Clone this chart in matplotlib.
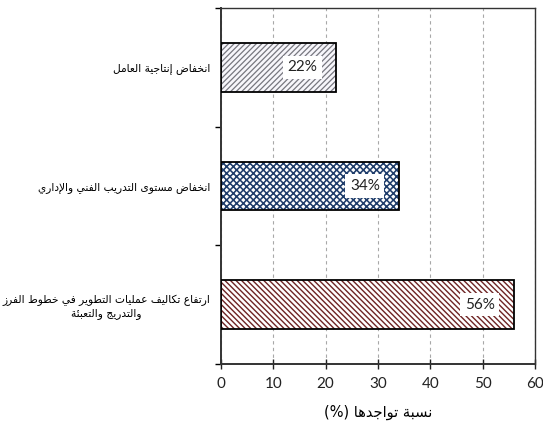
import matplotlib
matplotlib.use("Agg")
import matplotlib.pyplot as plt
from matplotlib.ticker import FixedLocator

# ---- data -------------------------------------------------------------
categories = [
    "انخفاض إنتاجية العامل",
    "انخفاض مستوى التدريب الفني والإداري",
    "ارتفاع تكاليف عمليات التطوير في خطوط الفرز\nوالتدريج والتعبئة",
]
values = [22, 34, 56]
value_labels = ["22%", "34%", "56%"]
x_ticks = [0, 10, 20, 30, 40, 50, 60]
x_label_ar = "نسبة تواجدها"
x_label_unit = "(%)"

# ---- minimal Arabic shaping (contextual forms + RTL order) -------------
# (char, first code point of its presentation-form block, joins on both sides)
_LETTERS = [
    ("آ", 0xFE81, False), ("أ", 0xFE83, False), ("ؤ", 0xFE85, False),
    ("إ", 0xFE87, False), ("ئ", 0xFE89, True), ("ا", 0xFE8D, False),
    ("ب", 0xFE8F, True), ("ة", 0xFE93, False), ("ت", 0xFE95, True),
    ("ث", 0xFE99, True), ("ج", 0xFE9D, True), ("ح", 0xFEA1, True),
    ("خ", 0xFEA5, True), ("د", 0xFEA9, False), ("ذ", 0xFEAB, False),
    ("ر", 0xFEAD, False), ("ز", 0xFEAF, False), ("س", 0xFEB1, True),
    ("ش", 0xFEB5, True), ("ص", 0xFEB9, True), ("ض", 0xFEBD, True),
    ("ط", 0xFEC1, True), ("ظ", 0xFEC5, True), ("ع", 0xFEC9, True),
    ("غ", 0xFECD, True), ("ف", 0xFED1, True), ("ق", 0xFED5, True),
    ("ك", 0xFED9, True), ("ل", 0xFEDD, True), ("م", 0xFEE1, True),
    ("ن", 0xFEE5, True), ("ه", 0xFEE9, True), ("و", 0xFEED, False),
    ("ى", 0xFEEF, False), ("ي", 0xFEF1, True),
]
_FORMS = {c: (base, dual) for c, base, dual in _LETTERS}
_LAM_ALEF = {"آ": 0xFEF5, "أ": 0xFEF7, "إ": 0xFEF9, "ا": 0xFEFB}


def shape_line(text):
    tokens = []
    i = 0
    while i < len(text):
        c = text[i]
        if c == "ل" and i + 1 < len(text) and text[i + 1] in _LAM_ALEF:
            tokens.append((_LAM_ALEF[text[i + 1]], False, None))
            i += 2
            continue
        if c in _FORMS:
            base, dual = _FORMS[c]
            tokens.append((base, dual, None))
        else:
            tokens.append((None, False, c))
        i += 1
    out = []
    for k, (base, dual, lit) in enumerate(tokens):
        if base is None:
            out.append(lit)
            continue
        prev = tokens[k - 1] if k > 0 else None
        nxt = tokens[k + 1] if k + 1 < len(tokens) else None
        jp = prev is not None and prev[0] is not None and prev[1]
        jn = dual and nxt is not None and nxt[0] is not None
        if jp and jn:
            off = 3
        elif jp:
            off = 1
        elif jn:
            off = 2
        else:
            off = 0
        out.append(chr(base + off))
    return "".join(out)[::-1]


def rtl(text):
    return "\n".join(shape_line(line) for line in text.split("\n"))


# ---- figure -----------------------------------------------------------
plt.rcParams["font.family"] = ["DejaVu Sans"]
plt.rcParams["hatch.linewidth"] = 1.0

fig = plt.figure(figsize=(5.43, 4.33), dpi=100)
ax = fig.add_axes([0.407, 0.159, 0.578, 0.8225])

num_font = ["Lato", "DejaVu Sans"]
hatches = ["//////", "xxxxx", "\\\\\\\\\\\\"]
hatch_colors = ["#77777f", "#1f3d6b", "#6e2424"]
hatch_widths = [0.9, 1.15, 1.0]
face_colors = ["#f7f6fb", "white", "white"]

pos = list(range(len(categories)))
bar_h = 0.41
ax.barh(pos, values, height=bar_h, color=face_colors, linewidth=0, zorder=2)
for p, v, h, hc, hw in zip(pos, values, hatches, hatch_colors, hatch_widths):
    plt.rcParams["hatch.linewidth"] = hw
    ax.barh(p, v, height=bar_h, color="none", edgecolor=hc, hatch=h,
            linewidth=0, zorder=3)
ax.barh(pos, values, height=bar_h, color="none", edgecolor="black",
        linewidth=1.3, zorder=4)

for p, v, lab in zip(pos, values, value_labels):
    ax.text(v - 6.5, p, lab, ha="center", va="center", fontsize=11,
            family=num_font, color="#222222", zorder=5,
            bbox=dict(boxstyle="square,pad=0.3", fc="white", ec="none"))

ax.set_xlim(0, 60)
ax.set_ylim(2.5, -0.5)
ax.xaxis.set_major_locator(FixedLocator(x_ticks))
ax.set_xticklabels([str(t) for t in x_ticks], family=num_font, fontsize=11)

ax.yaxis.set_major_locator(FixedLocator([-0.5, 0.5, 1.5, 2.5]))
ax.yaxis.set_ticklabels([])
ax.yaxis.set_minor_locator(FixedLocator(pos))
ax.yaxis.set_minor_formatter(plt.FixedFormatter([rtl(c) for c in categories]))
ax.tick_params(axis="y", which="minor", length=0, pad=8, labelsize=7.7)
for t in ax.yaxis.get_minorticklabels():
    t.set_multialignment("center")
ax.tick_params(axis="y", which="major", direction="out", length=4, width=1)
ax.tick_params(axis="x", direction="inout", length=7, width=1, pad=6,
               colors="#222222")

ax.grid(axis="x", color="#a8a8a8", linestyle=(0, (3, 3)), linewidth=0.8,
        zorder=1)
ax.set_axisbelow(True)

for side in ["left", "bottom"]:
    ax.spines[side].set_linewidth(1.4)
    ax.spines[side].set_color("#333333")
for side in ["top", "right"]:
    ax.spines[side].set_linewidth(1.0)
    ax.spines[side].set_color("#333333")

ax.set_xlabel(x_label_unit + " " + rtl(x_label_ar), fontsize=10.5, labelpad=10)

fig.savefig("out.png", dpi=100)
